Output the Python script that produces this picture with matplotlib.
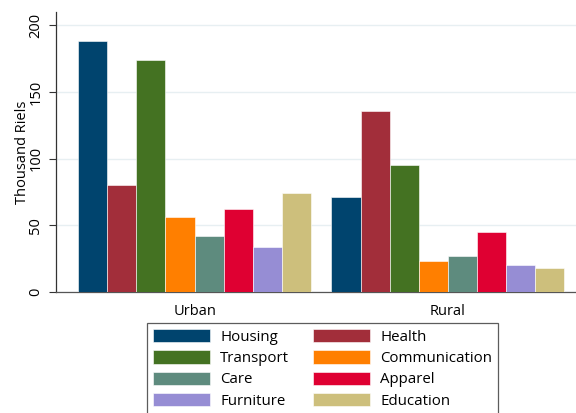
import matplotlib.pyplot as plt
import numpy as np

plt.rcParams['font.family'] = ['Open Sans', 'DejaVu Sans']

# data
groups = ["Urban", "Rural"]
categories = ["Housing", "Health", "Transport", "Communication",
              "Care", "Apparel", "Furniture", "Education"]
urban = [188, 80, 174, 56, 42, 62, 34, 74]
rural = [71, 136, 95, 23, 27, 45, 20, 18]
colors = ["#00446e", "#a22e3a", "#447222", "#ff7f00",
          "#5e8b7e", "#df0032", "#968dd4", "#cdbf7c"]

fig = plt.figure(figsize=(5.76, 4.13), dpi=100)
ax = fig.add_axes([0.0972, 0.293, 0.903, 0.678])

gap = 0.7
n = len(categories)
for j, vals in enumerate([urban, rural]):
    start = j * (n + gap)
    for i, v in enumerate(vals):
        ax.bar(start + i, v, width=1.0, color=colors[i],
               edgecolor="white", linewidth=0.4,
               label=categories[i] if j == 0 else None, zorder=3)

centers = [(n - 1) / 2 + j * (n + gap) for j in range(len(groups))]
ax.set_xticks(centers)
ax.set_xticklabels(groups, fontsize=10.5)
ax.tick_params(axis="x", length=0, pad=9)

ax.set_xlim(-1.26, 2 * n + gap - 0.5 + 0.4)
ax.set_ylim(0, 210)
ax.set_yticks([0, 50, 100, 150, 200])
ax.set_yticklabels(["0", "50", "100", "150", "200"], rotation=90, va="center", fontsize=10.5)
ax.tick_params(axis="y", length=5, width=0.8, color="#333333", pad=4)
ax.set_ylabel("Thousand Riels", fontsize=10.5, labelpad=-1)

ax.grid(axis="y", color="#e7eff2", linewidth=1.0, zorder=0)
for s in ["top", "right"]:
    ax.spines[s].set_visible(False)
ax.spines["left"].set_color("#333333")
ax.spines["bottom"].set_color("#555555")
ax.spines["left"].set_linewidth(0.9)
ax.spines["bottom"].set_linewidth(0.9)

# legend filled row by row, as in the original
handles, labels = ax.get_legend_handles_labels()
order = [0, 2, 4, 6, 1, 3, 5, 7]
leg = fig.legend([handles[k] for k in order], [labels[k] for k in order],
                 ncol=2, loc="upper center",
                 bbox_to_anchor=(0.56, 0.236), fontsize=10.8,
                 frameon=True, fancybox=False, edgecolor="#333333",
                 handlelength=3.8, handleheight=1.0, columnspacing=1.6,
                 handletextpad=0.67, labelspacing=0.36, borderpad=0.4)
leg.get_frame().set_linewidth(0.9)

fig.savefig("out.png", dpi=100)
